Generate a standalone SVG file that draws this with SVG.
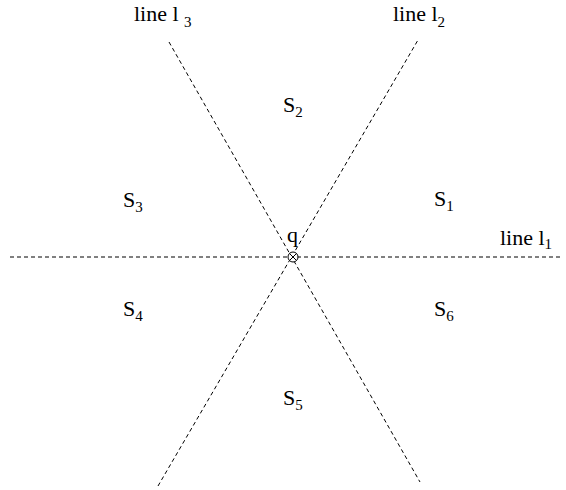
<svg xmlns="http://www.w3.org/2000/svg" width="566" height="490" viewBox="0 0 566 490">
<style>
.ln{stroke:#000;stroke-width:1;stroke-dasharray:4 3;fill:none}
.t{font-family:"Liberation Serif",serif;font-size:22px;fill:#000}
.sub{font-size:15px}
</style>
<rect width="566" height="490" fill="#fff"/>
<g id="connectors">
<line class="ln" x1="10" y1="257" x2="563" y2="257"/>
<line class="ln" x1="158" y1="486" x2="418" y2="40"/>
<line class="ln" x1="169" y1="42" x2="420" y2="482"/>
</g>
<g id="q">
<circle cx="293" cy="257" r="5" fill="#fff" stroke="#000" stroke-width="1"/>
<path d="M289.5 253.5L296.5 260.5M296.5 253.5L289.5 260.5" stroke="#000" stroke-width="1"/>
<text class="t" x="287" y="242">q</text>
</g>
<g id="l1"><text class="t" x="500" y="245">line l<tspan class="sub" dy="4">1</tspan></text></g>
<g id="l2"><text class="t" x="393" y="21">line l<tspan class="sub" dy="6">2</tspan></text></g>
<g id="l3"><text class="t" x="134" y="21">line l <tspan class="sub" dy="6">3</tspan></text></g>
<g id="S1"><text class="t" x="434" y="206">S<tspan class="sub" dy="5">1</tspan></text></g>
<g id="S2"><text class="t" x="283" y="112">S<tspan class="sub" dy="5">2</tspan></text></g>
<g id="S3"><text class="t" x="123" y="207">S<tspan class="sub" dy="5">3</tspan></text></g>
<g id="S4"><text class="t" x="123" y="316">S<tspan class="sub" dy="5">4</tspan></text></g>
<g id="S5"><text class="t" x="283" y="405">S<tspan class="sub" dy="5">5</tspan></text></g>
<g id="S6"><text class="t" x="434" y="316">S<tspan class="sub" dy="5">6</tspan></text></g>
</svg>
